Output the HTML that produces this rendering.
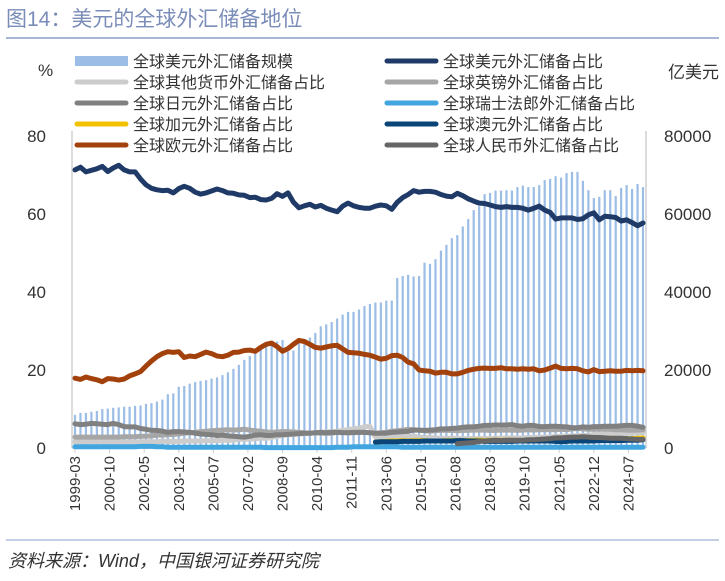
<!DOCTYPE html>
<html><head><meta charset="utf-8"><style>
body{margin:0;background:#fff;width:725px;height:576px;overflow:hidden;font-family:"Liberation Sans","Noto Sans CJK SC",sans-serif}
svg text{font-family:"Liberation Sans","Noto Sans CJK SC",sans-serif}
</style></head><body>
<svg id="c" width="725" height="576" xmlns="http://www.w3.org/2000/svg">
<text x="6" y="26" font-size="21" fill="#7a8cb8">图14：美元的全球外汇储备地位</text>
<line x1="6" y1="38" x2="719" y2="38" stroke="#8a9dc8" stroke-width="1.5"/>
<line x1="6" y1="540" x2="719" y2="540" stroke="#8a9dc8" stroke-width="1"/>
<text x="8" y="567" font-size="18" font-style="italic" fill="#333">资料来源：Wind，中国银河证券研究院</text>
<text x="38" y="76" font-size="17" fill="#333">%</text>
<text x="668" y="78" font-size="17" fill="#333">亿美元</text>
<g id="plot"></g>
<g id="legend"></g>
</svg>
<script>
const categories=[];for(let y=1999;y<=2025;y++)for(const m of ['03','06','09','12']){if(y===2025&&m!=='03')break;categories.push(y+'-'+m);}
const tickLabels=['1999-03','2000-10','2002-05','2003-12','2005-07','2007-02','2008-09','2010-04','2011-11','2013-06','2015-01','2016-08','2018-03','2019-10','2021-05','2022-12','2024-07'];
const reserves=[8500,9000,9000,9300,9500,10000,10100,10300,10400,10600,10600,10800,10900,11300,11500,11900,12400,13800,14000,15700,15900,16500,16900,17200,17400,17800,18100,18700,19400,20300,21300,22600,23600,24500,25500,26800,27000,27300,27700,24700,25000,27200,27400,28300,29500,31200,31700,32300,33200,34200,34900,34900,35500,36400,36900,37300,37300,37800,37800,43600,44100,44400,44000,44100,47500,47200,48400,50600,52100,53800,54600,56800,58700,61000,62000,65100,65400,66000,66000,66100,66000,66900,67300,66900,66900,67400,68700,69000,69700,69300,70500,70800,70800,68500,66100,64100,64400,66100,66100,64600,66700,67400,66400,67700,66900];
const usd=[71.3,72.0,70.8,71.2,71.6,72.2,70.9,71.8,72.5,71.3,70.8,70.8,69.0,67.5,66.6,66.2,66.0,66.1,65.4,66.5,67.1,66.6,65.6,65.1,65.4,65.9,66.4,66.0,65.4,65.3,64.9,64.8,64.2,64.3,63.7,63.6,64.0,65.2,64.5,65.4,63.0,61.6,62.1,62.5,61.8,62.2,61.5,61.0,60.6,62.0,62.8,62.1,61.7,61.5,61.5,62.0,62.3,62.1,61.2,63.0,64.2,65.0,66.0,65.6,65.8,65.8,65.6,65.0,64.6,64.4,65.3,64.7,63.9,63.3,62.8,62.7,62.3,61.9,61.7,61.9,61.7,61.7,61.5,61.0,61.5,62.0,61.0,60.4,58.7,59.0,59.0,59.0,58.6,58.8,59.8,60.3,58.5,59.4,59.3,59.1,58.2,58.5,57.8,57.0,57.7];
const eur=[17.9,17.6,18.2,17.8,17.5,17.0,17.8,17.7,17.4,17.7,18.5,19.0,19.6,21.0,22.3,23.4,24.2,24.7,24.5,24.7,23.2,23.6,23.4,24.0,24.6,24.2,23.6,23.4,23.8,24.5,24.6,25.0,25.1,24.8,25.8,26.6,26.9,26.0,24.8,25.5,26.6,27.6,27.3,26.6,25.8,25.6,25.9,26.2,26.3,25.4,24.5,24.4,24.3,24.0,23.8,23.3,22.8,23.0,23.7,23.8,23.2,22.0,21.6,20.0,19.8,19.7,19.2,19.4,19.4,19.0,19.0,19.4,19.9,20.2,20.4,20.5,20.4,20.4,20.6,20.3,20.3,20.2,20.3,20.2,20.3,19.8,20.0,20.5,21.0,20.4,20.3,20.4,20.3,19.8,19.5,20.1,19.6,19.7,19.8,19.7,19.7,19.9,19.8,19.9,19.8];
const jpy=[6.2,6.0,6.1,6.3,6.2,6.1,6.0,6.3,6.0,5.5,5.4,5.4,5.0,4.8,4.5,4.5,4.3,4.0,4.2,4.2,4.1,4.0,3.8,3.6,3.5,3.4,3.2,3.3,3.1,3.0,2.9,2.8,3.0,3.3,3.4,3.2,3.2,3.4,3.4,3.5,3.6,3.7,3.8,3.8,3.9,4.0,3.9,4.0,4.0,3.9,3.9,4.0,4.0,4.0,3.9,3.8,3.8,3.8,4.0,4.1,4.2,4.3,4.6,4.6,4.5,4.6,4.7,4.9,4.9,5.0,5.1,5.3,5.4,5.4,5.6,5.8,5.8,5.9,5.9,5.9,6.0,5.7,5.6,5.8,5.8,5.5,5.5,5.6,5.6,5.5,5.4,5.2,5.2,5.4,5.3,5.5,5.5,5.6,5.6,5.6,5.7,5.8,5.8,5.6,5.3];
const gbp=[2.8,2.8,2.8,2.8,2.8,2.8,2.8,2.8,2.8,2.9,2.9,2.9,3.0,3.0,3.1,3.3,3.3,3.4,3.5,3.6,3.8,3.9,4.0,4.2,4.3,4.4,4.5,4.6,4.7,4.6,4.7,4.8,4.6,4.4,4.3,4.1,4.0,4.1,4.2,4.2,4.1,4.0,3.9,3.8,3.9,3.8,3.8,3.8,4.0,4.0,3.9,3.9,4.0,4.0,3.9,3.8,3.9,4.0,4.3,4.4,4.6,4.8,4.7,4.6,4.4,4.3,4.4,4.5,4.5,4.5,4.4,4.5,4.5,4.6,4.6,4.6,4.5,4.5,4.6,4.6,4.6,4.5,4.6,4.7,4.6,4.7,4.7,4.7,4.7,4.8,4.7,4.9,5.0,4.9,4.8,4.8,4.8,4.8,4.8,4.7,4.7,4.6,4.6,4.6,4.7];
const other=[1.6,1.6,1.6,1.6,1.6,1.6,1.6,1.5,1.5,1.5,1.5,1.5,1.6,1.6,1.6,1.6,1.7,1.7,1.7,1.7,1.8,1.8,1.8,1.8,1.9,1.9,1.9,2.0,2.0,2.0,2.2,2.2,2.3,2.4,2.5,2.5,2.7,3.0,3.2,3.4,3.5,3.6,3.7,3.8,3.9,4.0,4.1,4.2,4.3,4.5,4.7,4.9,5.1,5.4,5.6,2.8,2.8,2.9,2.9,2.9,3.0,3.1,3.0,2.8,2.7,2.7,2.6,2.5,2.5,2.5,2.5,2.4,2.4,2.4,2.4,2.4,2.5,2.5,2.5,2.6,2.6,2.6,2.6,2.7,2.7,2.8,2.8,2.9,3.0,3.0,3.0,3.1,3.1,3.2,3.3,3.4,3.5,3.5,3.6,3.6,3.7,3.8,3.8,3.9,4.0];
const chf=[0.3,0.3,0.3,0.3,0.3,0.3,0.3,0.3,0.3,0.3,0.3,0.3,0.4,0.4,0.4,0.3,0.3,0.2,0.2,0.2,0.2,0.2,0.2,0.2,0.2,0.2,0.2,0.2,0.2,0.2,0.2,0.2,0.2,0.2,0.2,0.1,0.1,0.1,0.1,0.1,0.1,0.1,0.1,0.1,0.1,0.1,0.1,0.1,0.2,0.2,0.2,0.3,0.3,0.3,0.3,0.3,0.3,0.3,0.3,0.3,0.2,0.2,0.2,0.2,0.2,0.2,0.2,0.2,0.2,0.2,0.2,0.2,0.2,0.2,0.2,0.2,0.2,0.2,0.2,0.2,0.2,0.2,0.2,0.2,0.2,0.2,0.2,0.2,0.2,0.2,0.2,0.2,0.2,0.2,0.2,0.2,0.2,0.2,0.2,0.2,0.2,0.2,0.2,0.2,0.2];
const cad=Array(55).fill(null).concat([1.5,1.6,1.7,1.8,1.8,1.9,1.8,1.9,1.9,1.9,1.8,1.8,1.8,1.9,1.9,1.9,1.9,1.9,2.0,2.0,1.9,2.0,2.0,2.0,2.0,2.0,1.9,1.9,1.8,1.8,1.9,1.9,1.9,1.9,2.0,2.0,2.0,2.1,2.1,2.2,2.2,2.3,2.4,2.5,2.5,2.4,2.4,2.4,2.5,2.6]);
const aud=Array(55).fill(null).concat([1.5,1.6,1.6,1.6,1.6,1.7,1.7,1.7,1.7,1.8,1.8,1.8,1.8,1.8,1.8,1.9,1.9,1.8,1.8,1.8,1.7,1.7,1.7,1.7,1.7,1.7,1.8,1.8,1.8,1.8,1.8,1.8,1.8,1.7,1.6,1.7,1.8,1.8,1.8,1.8,1.8,1.9,1.9,1.9,1.9,1.9,2.0,2.0,2.0,2.1]);
const rmb=Array(70).fill(null).concat([1.1,1.2,1.3,1.4,1.7,1.8,1.9,2.0,1.9,2.0,2.0,2.0,2.0,2.1,2.1,2.2,2.3,2.4,2.6,2.6,2.7,2.8,2.8,2.9,2.8,2.7,2.7,2.6,2.5,2.5,2.5,2.4,2.3,2.2,2.2]);
const leftTicks=[0,20,40,60,80];
const rightTicks=[0,20000,40000,60000,80000];

const NS='http://www.w3.org/2000/svg';
const plot=document.getElementById('plot');
function mk(tag,attrs,parent){const e=document.createElementNS(NS,tag);for(const k in attrs)e.setAttribute(k,attrs[k]);(parent||plot).appendChild(e);return e;}
const X0=75,X1=643,Y0=448,Y1=136;
const n=categories.length;
const xs=i=>X0+(X1-X0)*i/(n-1);
const yL=v=>Y0-(Y0-Y1)*v/80;
const yR=v=>Y0-(Y0-Y1)*v/80000;

let a=mk('line',{x1:72,y1:Y0,x2:646,y2:Y0,stroke:'#d0d0d0','stroke-width':1.5});

a=mk('line',{x1:72,y1:Y1-5,x2:72,y2:Y0,stroke:'#d0d0d0','stroke-width':1.5});

a=mk('line',{x1:646,y1:Y1-5,x2:646,y2:Y0,stroke:'#d0d0d0','stroke-width':1.5});

leftTicks.forEach(v=>{const t=mk('text',{x:46,y:yL(v)+6,'font-size':17,fill:'#333','text-anchor':'end'});t.textContent=v;
});
rightTicks.forEach(v=>{const t=mk('text',{x:664,y:yR(v)+6,'font-size':17,fill:'#333'});t.textContent=v;
});
tickLabels.forEach(l=>{const i=categories.indexOf(l);const p=i>=0?xs(i):X0+(X1-X0)*((+l.slice(0,4)-1999)*12+(+l.slice(5)-3))/((n-1)*3);
const tk=mk('line',{x1:p,y1:Y0,x2:p,y2:Y0+5,stroke:'#d0d0d0'});
const t=mk('text',{x:0,y:0,'font-size':15,fill:'#333','text-anchor':'end',transform:`translate(${p+5},${Y0+8}) rotate(-90)`});t.textContent=l;
});

reserves.forEach((v,i)=>{const b=mk('rect',{x:xs(i)-1.1,y:yR(v),width:2.2,height:Y0-yR(v),fill:'#9bbde6'});
});

function line(arr,color,w,name){let d='';let pen=false;arr.forEach((v,i)=>{if(v==null){pen=false;return;}d+=(pen?'L':'M')+xs(i).toFixed(1)+','+yL(v).toFixed(1);pen=true;});
const p=mk('path',{d:d,fill:'none',stroke:color,'stroke-width':w,'stroke-linejoin':'round','stroke-linecap':'round'});
}
line(other,'#cccccc',5,'line-other');
line(gbp,'#a6a6a6',5,'line-gbp');
line(chf,'#41a6e0',5,'line-chf');
line(cad,'#f2c200',5,'line-cad');
line(aud,'#0b4577',5,'line-aud');
line(rmb,'#666666',5,'line-rmb');
line(jpy,'#808080',5,'line-jpy');
line(eur,'#a3410c',5,'line-eur');
line(usd,'#1f3a66',5,'line-usd');

const lg=document.getElementById('legend');
const entries=[['全球美元外汇储备规模','#9bbde6',75,61,'bar'],['全球其他货币外汇储备占比','#cccccc',75,82],['全球日元外汇储备占比','#808080',75,103],['全球加元外汇储备占比','#f2c200',75,124],['全球欧元外汇储备占比','#a3410c',75,145],
['全球美元外汇储备占比','#1f3a66',385,61],['全球英镑外汇储备占比','#a6a6a6',385,82],['全球瑞士法郎外汇储备占比','#41a6e0',385,103],['全球澳元外汇储备占比','#0b4577',385,124],['全球人民币外汇储备占比','#666666',385,145]];
entries.forEach(e=>{
const s=e[4]==='bar'?mk('rect',{x:e[2],y:e[3]-5,width:53,height:10,fill:e[1]},lg):mk('line',{x1:e[2]+2,y1:e[3],x2:e[2]+51,y2:e[3],stroke:e[1],'stroke-width':5,'stroke-linecap':'round'},lg);

const t=mk('text',{x:e[2]+58,y:e[3]+6,'font-size':16,fill:'#333'},lg);t.textContent=e[0];
});
</script>
</body></html>
